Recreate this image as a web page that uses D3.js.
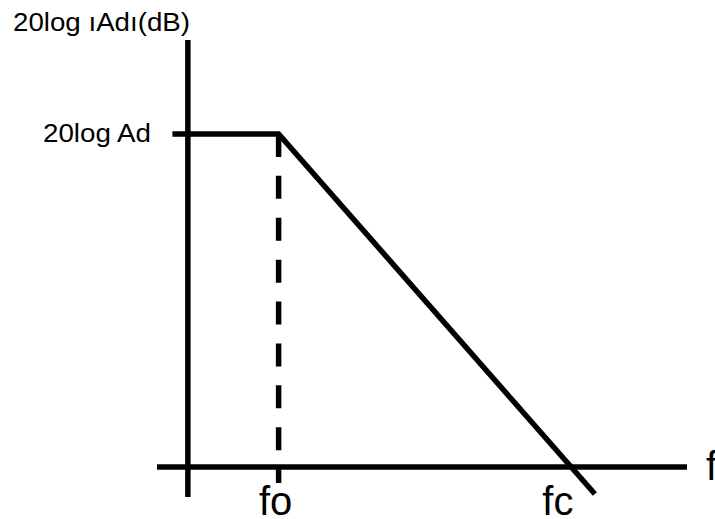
<!DOCTYPE html>
<html>
  <head>
    <meta http-equiv="Content-Type" content="text/html;charset=utf-8"/>
    <title>Bode plot</title>
    <script src="https://d3js.org/d3.v7.min.js"></script>
    <style>
        body { margin: 0; background: #fff; }
        text { font-family: "Liberation Sans", Arial, sans-serif; fill: #000; }
    </style>
</head>
  <body>
    <div id="chart"></div>
    <script>
        // frequency in units of fo (linear sketch), gain in units of 20log Ad
        const fo = 1, fc = 4.21;
        const respFreq = [-0.17, fo, 4.485];
        const respGain = [1, 1, -0.081];
        const dashGain = [1, -0.048];
        const xAxisRange = [-0.34, 5.5];
        const yAxisRange = [-0.09, 1.282];
        const xTicks = [{ v: fo, label: "fo", dx: -3 }, { v: fc, label: "fc", dx: -12 }];
        const yTicks = [{ v: 1, label: "20log Ad" }];

        const width = 715, height = 519;

        const x = d3.scaleLinear().domain([-0.34, 5.5]).range([157, 687]);
        const y = d3.scaleLinear().domain([-0.09, 1.282]).range([497, 40]);

        const svg = d3.select("#chart").append("svg")
            .attr("width", width)
            .attr("height", height);

        const line = d3.line().x(d => x(d[0])).y(d => y(d[1]));
        const sw = 5.5;

        // axes
        svg.append("path")
            .attr("d", line(xAxisRange.map(v => [v, 0])))
            .attr("stroke", "#000").attr("stroke-width", sw).attr("fill", "none");
        svg.append("path")
            .attr("d", line(yAxisRange.map(v => [0, v])))
            .attr("stroke", "#000").attr("stroke-width", sw).attr("fill", "none");

        // dashed marker at fo
        svg.append("path")
            .attr("d", line(dashGain.map(v => [fo, v])))
            .attr("stroke", "#000").attr("stroke-width", sw).attr("fill", "none")
            .attr("stroke-dasharray", "23,18.9");

        // asymptotic response
        svg.append("path")
            .attr("d", line(respFreq.map((f, i) => [f, respGain[i]])))
            .attr("stroke", "#000").attr("stroke-width", sw).attr("fill", "none")
            .attr("stroke-linejoin", "miter");

        // labels
        svg.append("text")
            .attr("x", 13).attr("y", 31)
            .attr("font-size", 25)
            .attr("textLength", 177).attr("lengthAdjust", "spacingAndGlyphs")
            .text("20log ıAdı(dB)");

        svg.selectAll("text.ylab")
            .data(yTicks)
            .enter().append("text")
            .attr("class", "ylab")
            .attr("x", 43)
            .attr("y", d => y(d.v) + 8)
            .attr("font-size", 26)
            .attr("textLength", 108).attr("lengthAdjust", "spacingAndGlyphs")
            .text(d => d.label);

        svg.selectAll("text.xlab")
            .data(xTicks)
            .enter().append("text")
            .attr("class", "xlab")
            .attr("x", d => x(d.v) + d.dx)
            .attr("y", 515)
            .attr("text-anchor", "middle")
            .attr("font-size", 40)
            .text(d => d.label);

        svg.append("text")
            .attr("x", 706).attr("y", y(0) + 13)
            .attr("font-size", 40)
            .text("f");
    </script>
</body>
</html>
